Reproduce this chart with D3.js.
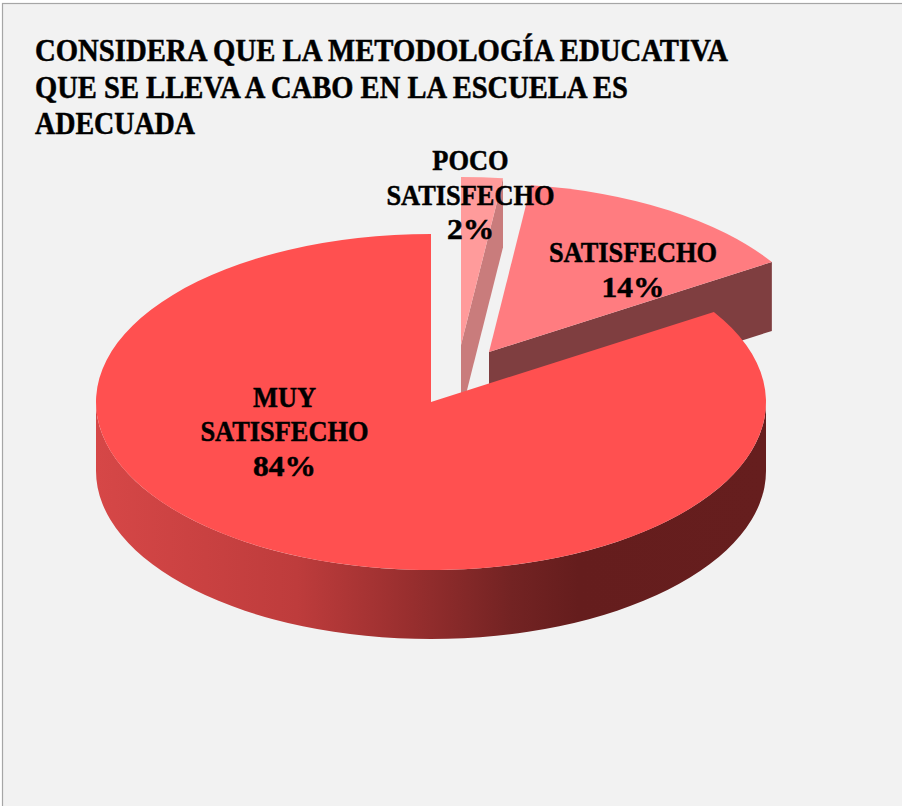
<!DOCTYPE html>
<html><head><meta charset="utf-8">
<script src="https://cdn.jsdelivr.net/npm/d3@7/dist/d3.min.js"></script>
<style>html,body{margin:0;padding:0;background:#fff}svg{display:block}</style>
</head><body><div id="c"></div>
<script>
const titleLines=["CONSIDERA QUE LA METODOLOGÍA EDUCATIVA","QUE SE LLEVA A CABO EN LA ESCUELA ES","ADECUADA"];
const categories=["POCO SATISFECHO","SATISFECHO","MUY SATISFECHO"];
const values=[2,14,84];
const topColors=["#ff9b9b","#ff7c80","#ff5050"];
const wallColors=["#c97c7c","#7f3e40","#651d1d"];

const W=902,H=806,cx=431,cy=402,rx=335,ry=168,depth=69;
const offsets=[[30,-57],[58,-50],[0,0]];
const titleWidths=[693,593,160];
const labelPos=[{x:470.5,y:[170,205,239],l:["POCO","SATISFECHO","2%"]},
                {x:633,y:[262,297],l:["SATISFECHO","14%"]},
                {x:284.5,y:[407,441,476],l:["MUY","SATISFECHO","84%"]}];

const svg=d3.select("#c").append("svg").attr("width",W).attr("height",H);
svg.append("rect").attr("x",2.5).attr("y",3.5).attr("width",W+10).attr("height",H+10)
  .attr("fill","#f2f2f2").attr("stroke","#a6a6a6").attr("stroke-width",1.2);

const grad=svg.append("defs").append("linearGradient").attr("id","wall")
  .attr("gradientUnits","userSpaceOnUse").attr("x1",cx-rx).attr("x2",cx+rx).attr("y1",0).attr("y2",0);
[[0,"#d64747"],[.3,"#be3c3c"],[.46,"#9a2f2f"],[.62,"#732323"],[.72,"#651d1d"],[1,"#661e1e"]]
  .forEach(s=>grad.append("stop").attr("offset",s[0]).attr("stop-color",s[1]));

const pie=d3.pie().sort(null).value(d=>d);
const arcs=pie(values);
const arcGen=d3.arc().innerRadius(0).outerRadius(rx);
const px=(a,i)=>cx+offsets[i][0]+rx*Math.sin(a);
const py=(a,i)=>cy+offsets[i][1]-ry*Math.cos(a);
const ax=i=>cx+offsets[i][0], ay=i=>cy+offsets[i][1];

arcs.forEach((d,i)=>{
  const g=svg.append("g");
  if(i<2){
    const a=d.endAngle;
    g.append("path").attr("fill",wallColors[i]).attr("d",
      `M${ax(i)},${ay(i)}L${px(a,i)},${py(a,i)}L${px(a,i)},${py(a,i)+depth}L${ax(i)},${ay(i)+depth}Z`);
  } else {
    const a0=Math.PI/2, a1=Math.PI*1.5;
    g.append("path").attr("fill","url(#wall)").attr("d",
      `M${px(a0,i)},${py(a0,i)}A${rx},${ry} 0 0 1 ${px(a1,i)},${py(a1,i)}L${px(a1,i)},${py(a1,i)+depth}A${rx},${ry} 0 0 0 ${px(a0,i)},${py(a0,i)+depth}Z`);
  }
  g.append("path").attr("fill",topColors[i]).attr("d",arcGen(d))
    .attr("transform",`translate(${ax(i)},${ay(i)}) scale(1,${ry/rx})`);
});

const font="'Liberation Serif',serif";
svg.append("g").selectAll("text").data(titleLines).join("text")
  .attr("x",35).attr("y",(d,i)=>61+i*36.5).text(d=>d)
  .attr("font-family",font).attr("font-weight",700).attr("font-size",31).attr("fill","#000")
  .attr("stroke","#000").attr("stroke-width",.5)
  .attr("textLength",(d,i)=>titleWidths[i]).attr("lengthAdjust","spacingAndGlyphs");
labelPos.forEach((p,i)=>{
  svg.append("g").selectAll("text").data(p.l).join("text")
    .attr("y",(d,j)=>p.y[j]).text(d=>d)
    .attr("font-family",font).attr("font-weight",700).attr("font-size",30).attr("fill","#000")
    .attr("stroke","#000").attr("stroke-width",.5)
    .attr("text-anchor","middle").attr("x",p.x)
    .each(function(d){
      const f=/\d/.test(d)?1.05:0.88;
      d3.select(this).attr("textLength",this.getComputedTextLength()*f).attr("lengthAdjust","spacingAndGlyphs");
    });
});
</script></body></html>
